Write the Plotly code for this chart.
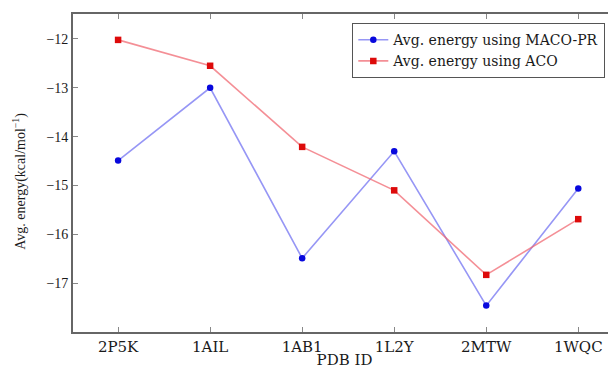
import plotly.graph_objects as go

pdb_ids = ["2P5K", "1AIL", "1AB1", "1L2Y", "2MTW", "1WQC"]
maco_pr = [-14.49, -13.0, -16.49, -14.30, -17.46, -15.06]
aco = [-12.02, -12.55, -14.21, -15.10, -16.83, -15.69]
y_ticks = [-12, -13, -14, -15, -16, -17]
y_tick_text = ["\u221212", "\u221213", "\u221214", "\u221215", "\u221216", "\u221217"]
y_title = "Avg. energy(kcal/mol<sup>\u22121</sup>)"
x_title = "PDB ID"

SERIF = "Liberation Serif"
WIDE = "DejaVu Serif"

fig = go.Figure()
fig.add_trace(go.Scatter(
    x=list(range(len(pdb_ids))), y=maco_pr, mode="lines+markers",
    name="Avg. energy using MACO-PR",
    line=dict(color="rgba(100,100,240,0.68)", width=1.6),
    marker=dict(color="#0808dd", size=6.5, symbol="circle"),
))
fig.add_trace(go.Scatter(
    x=list(range(len(pdb_ids))), y=aco, mode="lines+markers",
    name="Avg. energy using ACO",
    line=dict(color="rgba(240,100,110,0.72)", width=1.6),
    marker=dict(color="#dd0a0a", size=6.5, symbol="square"),
))

# The page body has an 8px margin; the figure is sized to compensate.
fig.update_layout(
    width=608, height=361,
    margin=dict(l=65, r=0, t=6, b=37, autoexpand=False),
    paper_bgcolor="white", plot_bgcolor="white",
    font=dict(family=SERIF, size=14, color="#1a1a1a"),
    showlegend=True,
    legend=dict(
        x=0.514, y=0.972, xanchor="left", yanchor="top",
        bordercolor="#555", borderwidth=1.2, bgcolor="white",
        font=dict(family=WIDE, size=14, color="#1a1a1a"),
        tracegroupgap=0, itemwidth=30,
    ),
    xaxis=dict(
        range=[-0.49, 5.41],
        tickmode="array", tickvals=list(range(len(pdb_ids))), ticktext=pdb_ids,
        ticks="inside", ticklen=5, tickcolor="#888",
        showline=True, linecolor="#666", linewidth=1.8, mirror="ticks",
        showgrid=False, zeroline=False, automargin=False,
        title=dict(text=x_title, font=dict(family=WIDE, size=15), standoff=0),
        tickfont=dict(family=WIDE, size=15),
    ),
    yaxis=dict(
        range=[-18.0, -11.49],
        tickmode="array", tickvals=y_ticks, ticktext=y_tick_text,
        ticks="inside", ticklen=5, tickcolor="#888",
        showline=True, linecolor="#666", linewidth=1.8,
        showgrid=False, zeroline=False, automargin=False,
        tickfont=dict(family=SERIF, size=14),
    ),
    annotations=[dict(
        text=y_title, textangle=-90, showarrow=False,
        xref="paper", yref="paper", x=-0.098, y=0.475,
        xanchor="center", yanchor="middle",
        font=dict(family=SERIF, size=14, color="#1a1a1a"),
    )],
)

fig.write_html("out.html")
